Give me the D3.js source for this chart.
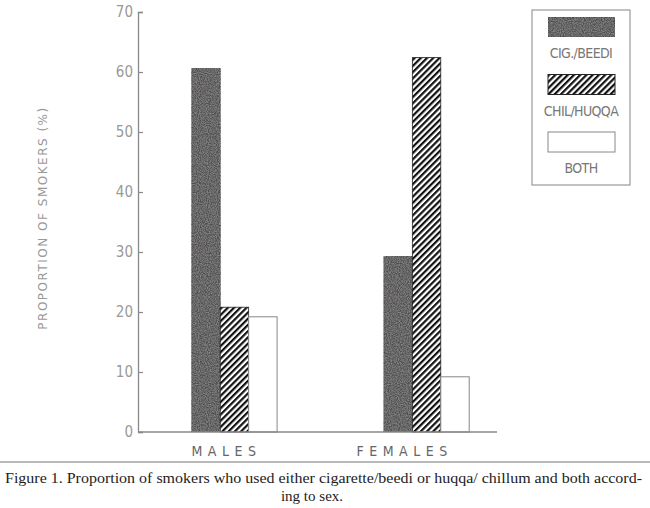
<!DOCTYPE html>
<html>
<head>
<meta charset="utf-8">
<script src="https://cdn.jsdelivr.net/npm/d3@7"></script>
<style>
  body { margin: 0; background: #fff; }
  svg { display: block; }
</style>
</head>
<body>
<svg width="650" height="508"></svg>
<script>
// data
var categories = ["MALES", "FEMALES"];
var series = ["CIG./BEEDI", "CHIL/HUQQA", "BOTH"];
var cigBeedi = [60.6, 29.3];
var chilHuqqa = [20.8, 62.4];
var both = [19.2, 9.2];
var yTicks = [0, 10, 20, 30, 40, 50, 60, 70];

var svg = d3.select("svg");
var defs = svg.append("defs");
var narrow = "'DejaVu Sans Condensed', 'Liberation Sans Narrow', sans-serif";

// speckled dark fill
var f = defs.append("filter").attr("id", "speckle")
  .attr("x", 0).attr("y", 0).attr("width", 1).attr("height", 1);
f.append("feTurbulence").attr("type", "fractalNoise")
  .attr("baseFrequency", 0.9).attr("numOctaves", 2).attr("seed", 3).attr("result", "n");
f.append("feColorMatrix").attr("in", "n").attr("type", "matrix")
  .attr("values", "0 0 0 0 0.28  0 0 0 0 0.28  0 0 0 0 0.28  0 0 0 -1.6 1.1")
  .attr("result", "dots");
f.append("feComposite").attr("in", "dots").attr("in2", "SourceGraphic")
  .attr("operator", "atop");

var hatch = defs.append("pattern").attr("id", "hatch")
  .attr("patternUnits", "userSpaceOnUse")
  .attr("width", 4.4).attr("height", 4.4)
  .attr("patternTransform", "rotate(45)");
hatch.append("rect").attr("width", 4.4).attr("height", 4.4).attr("fill", "#fff");
hatch.append("line").attr("x1", 1.1).attr("x2", 1.1).attr("y1", 0).attr("y2", 4.4)
  .attr("stroke", "#111").attr("stroke-width", 2.2);

var fills = {
  "CIG./BEEDI": "#514f4f",
  "CHIL/HUQQA": "url(#hatch)",
  "BOTH": "#fff"
};
var strokes = {
  "CIG./BEEDI": "#333",
  "CHIL/HUQQA": "#222",
  "BOTH": "#888"
};

var y = d3.scaleLinear().domain([0, 70]).range([432, 12]);

var x0 = d3.scaleBand().domain(categories).range([138, 523])
  .paddingInner(0.556).paddingOuter(0.28);
var x1 = d3.scaleBand().domain(series).range([0, x0.bandwidth()]);

var rows = categories.map(function(c, i) {
  return {cat: c, values: [cigBeedi[i], chilHuqqa[i], both[i]]};
});

// bars
var groups = svg.append("g").selectAll("g")
  .data(rows)
  .enter()
  .append("g")
  .attr("transform", function(d) { return "translate(" + x0(d.cat) + ",0)"; });

groups.selectAll("rect")
  .data(function(d) {
    return d.values.map(function(v, j) { return {s: series[j], v: v}; });
  })
  .enter()
  .append("rect")
  .attr("x", function(d) { return x1(d.s); })
  .attr("y", function(d) { return y(d.v); })
  .attr("width", x1.bandwidth())
  .attr("height", function(d) { return y(0) - y(d.v); })
  .attr("fill", function(d) { return fills[d.s]; })
  .attr("stroke", function(d) { return strokes[d.s]; })
  .attr("stroke-width", function(d) { return d.s == "BOTH" ? 1 : 0.8; })
  .attr("filter", function(d) { return d.s == "CIG./BEEDI" ? "url(#speckle)" : null; });

// y axis, ticks pointing inward
var yAxis = svg.append("g")
  .attr("transform", "translate(138,0)")
  .call(d3.axisLeft(y).tickValues(yTicks).tickSize(-5).tickPadding(5));
yAxis.select(".domain").attr("stroke", "#888").attr("stroke-width", 1.3);
yAxis.selectAll(".tick line").attr("stroke", "#888").attr("stroke-width", 1.2);
yAxis.selectAll("text")
  .attr("fill", "#999")
  .style("font-family", narrow)
  .style("font-size", "15px")
  .style("font-weight", "300");

// x baseline
svg.append("line")
  .attr("x1", 138).attr("x2", 497)
  .attr("y1", y(0)).attr("y2", y(0))
  .attr("stroke", "#888").attr("stroke-width", 1.3);

// category labels (printed a bit left of the groups)
var labelShift = {"MALES": -8, "FEMALES": -22};
svg.selectAll(".cat")
  .data(categories)
  .enter()
  .append("text")
  .attr("class", "cat")
  .attr("x", function(d) { return x0(d) + x0.bandwidth() / 2 + labelShift[d]; })
  .attr("y", 456)
  .attr("text-anchor", "middle")
  .attr("fill", "#666")
  .style("font-family", narrow)
  .style("font-size", "14px")
  .style("letter-spacing", "5.5px")
  .text(function(d) { return d; });

// y title
svg.append("text")
  .attr("transform", "translate(47,218) rotate(-90)")
  .attr("text-anchor", "middle")
  .attr("fill", "#999")
  .style("font-family", "'DejaVu Sans', sans-serif")
  .style("font-size", "12px")
  .style("letter-spacing", "1.5px")
  .text("PROPORTION OF SMOKERS (%)");

// legend
var legend = svg.append("g");
legend.append("rect")
  .attr("x", 532).attr("y", 10).attr("width", 98).attr("height", 175)
  .attr("fill", "#fff").attr("stroke", "#999").attr("stroke-width", 1.2);

var ly = d3.scalePoint().domain(series).range([17, 132]);
var item = legend.selectAll(".item")
  .data(series)
  .enter()
  .append("g")
  .attr("transform", function(d) { return "translate(548," + ly(d) + ")"; });
item.append("rect")
  .attr("width", 67).attr("height", 20)
  .attr("fill", function(d) { return fills[d]; })
  .attr("stroke", function(d) { return strokes[d]; })
  .attr("filter", function(d) { return d == "CIG./BEEDI" ? "url(#speckle)" : null; });
item.append("text")
  .attr("x", 33).attr("y", 41)
  .attr("text-anchor", "middle")
  .attr("fill", "#777")
  .style("font-family", narrow)
  .style("font-size", "14px")
  .style("letter-spacing", "-0.6px")
  .text(function(d) { return d; });

// rule and caption
svg.append("line")
  .attr("x1", 0).attr("x2", 650).attr("y1", 462).attr("y2", 462)
  .attr("stroke", "#777").attr("stroke-width", 1.2);

svg.append("text")
  .attr("x", 5).attr("y", 483)
  .attr("textLength", 637)
  .attr("lengthAdjust", "spacingAndGlyphs")
  .attr("fill", "#222")
  .style("font-family", "'Liberation Serif', serif")
  .style("font-size", "15px")
  .text("Figure 1. Proportion of smokers who used either cigarette/beedi or huqqa/ chillum and both accord-");
svg.append("text")
  .attr("x", 312).attr("y", 501)
  .attr("text-anchor", "middle")
  .attr("fill", "#222")
  .style("font-family", "'Liberation Serif', serif")
  .style("font-size", "15px")
  .text("ing to sex.");
</script>
</body>
</html>
